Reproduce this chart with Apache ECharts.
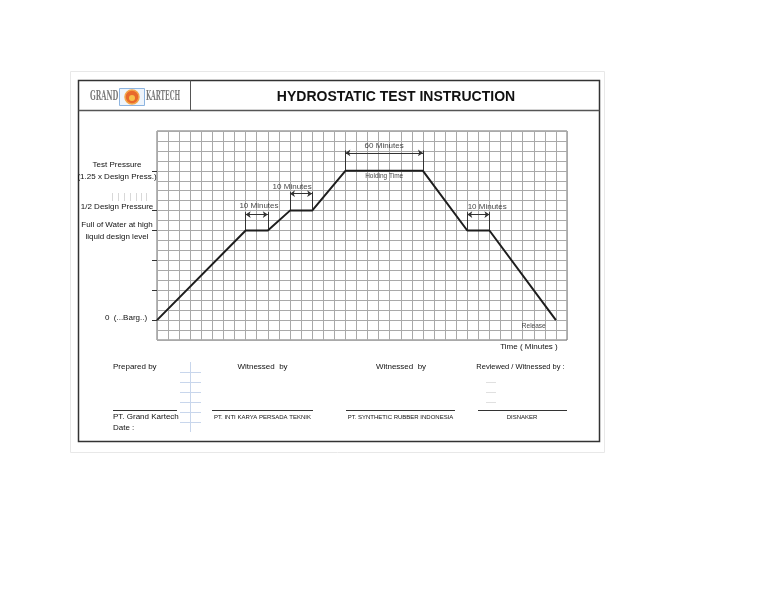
<!DOCTYPE html>
<html>
<head>
<meta charset="utf-8">
<script src="https://cdn.jsdelivr.net/npm/echarts@6/dist/echarts.min.js"></script>
<style>
html,body{margin:0;padding:0;background:#fff;}
#chart{width:768px;height:594px;}
</style>
</head>
<body>
<div id="chart"></div>
<script>
// ---- Data (time in grid columns, pressure in grid rows) ----
const times = [0, 8, 10, 12, 14, 17, 24, 28, 30, 36];
const pressure = [0, 9, 9, 11, 11, 15, 15, 9, 9, 0];

// hold periods (dimension annotations)
const holdStart = [8, 12, 17, 28];
const holdEnd = [10, 14, 24, 30];
const holdLevel = [9, 11, 15, 9];
const arrowLevel = [10.6, 12.7, 16.8, 10.6];
const extTop = [10.85, 12.9, 17.05, 10.85];
const holdText = ['10 Minutes', '10 Minutes', '60 Minutes', '10 Minutes'];
const holdLabelX = [9.2, 12.2, 20.5, 29.8];
const holdLabelY = [11.45, 13.35, 17.55, 11.35];

// other chart notes
const noteText = ['Holding Time', 'Release'];
const noteX = [20.5, 34.0];
const noteY = [14.45, -0.65];

// y-axis tick labels
const yTickValues = [0, 3, 6, 9, 11, 15];
const yTickLabels = ['0  (...Barg..)', '', '', 'Full of Water at high\nliquid design level', '1/2 Design Pressure', 'Test Pressure\n(1.25 x Design Press.)'];

const FONT = '"Liberation Sans", Arial, sans-serif';
const TXT = '#111';
const FS = 8;

const lineData = times.map((t, i) => [t, pressure[i]]);
const extLines = [];
const arrowLines = [];
holdStart.forEach((s, i) => {
  extLines.push({coords: [[s, holdLevel[i]], [s, extTop[i]]]});
  extLines.push({coords: [[holdEnd[i], holdLevel[i]], [holdEnd[i], extTop[i]]]});
  arrowLines.push({coords: [[s, arrowLevel[i]], [holdEnd[i], arrowLevel[i]]]});
});
const holdLabels = holdText.map((t, i) => ({name: t, value: [holdLabelX[i], holdLabelY[i]]}));
const noteLabels = noteText.map((t, i) => ({name: t, value: [noteX[i], noteY[i]]}));

const chart = echarts.init(document.getElementById('chart'), null, {renderer: 'canvas'});

function txt(x, y, text, opts, extra) {
  return Object.assign({
    type: 'text', x: x, y: y, silent: true,
    style: Object.assign({text: text, fill: TXT, font: FS + 'px ' + FONT, textAlign: 'left', textVerticalAlign: 'middle'}, opts || {})
  }, extra || {});
}
function ln(x1, y1, x2, y2, color, w) {
  return {type: 'line', silent: true, shape: {x1: x1, y1: y1, x2: x2, y2: y2}, style: {stroke: color, lineWidth: w || 1}};
}

const graphics = [
  {type: 'rect', silent: true, shape: {x: 70.5, y: 71.5, width: 534, height: 381}, style: {fill: 'none', stroke: '#e8e8e8', lineWidth: 1}},
  {type: 'rect', silent: true, shape: {x: 78.5, y: 80.5, width: 521, height: 361}, style: {fill: 'none', stroke: '#333', lineWidth: 1.5}},
  ln(78.5, 110.5, 599.5, 110.5, '#555', 1.5),
  ln(190.5, 80.5, 190.5, 110.5, '#555', 1),
  txt(396, 97, 'HYDROSTATIC TEST INSTRUCTION', {font: 'bold 14px ' + FONT, textAlign: 'center', fill: '#111'}),
  // logo
  txt(90, 97, 'GRAND', {font: 'bold 12px "DejaVu Serif Condensed", serif', fill: '#7a7a7a'}, {scaleX: 0.62}),
  {type: 'rect', silent: true, shape: {x: 119.5, y: 88.5, width: 25, height: 17}, style: {fill: '#eef4fb', stroke: '#8db4e0', lineWidth: 1}},
  {type: 'circle', silent: true, shape: {cx: 132, cy: 97, r: 7}, style: {fill: '#e8692c', stroke: '#f2a64a', lineWidth: 1.5}},
  {type: 'circle', silent: true, shape: {cx: 132, cy: 98, r: 3}, style: {fill: '#f6c04a'}},
  txt(146, 97, 'KARTECH', {font: 'bold 12px "DejaVu Serif Condensed", serif', fill: '#7a7a7a'}, {scaleX: 0.56}),
  // axis name
  txt(529, 347, 'Time ( Minutes )', {textAlign: 'center'}),
  // faint tick artefacts
  ln(112.5, 193, 112.5, 201, '#d8d8d8'), ln(118.5, 193, 118.5, 201, '#d8d8d8'), ln(124.5, 193, 124.5, 201, '#d8d8d8'),
  ln(130.5, 193, 130.5, 201, '#d8d8d8'), ln(136.5, 193, 136.5, 201, '#d8d8d8'), ln(141.5, 193, 141.5, 201, '#d8d8d8'),
  ln(146.5, 193, 146.5, 201, '#d8d8d8'),
  // signature block
  txt(113, 367, 'Prepared by'),
  txt(262.5, 367, 'Witnessed  by', {textAlign: 'center'}),
  txt(401, 367, 'Witnessed  by', {textAlign: 'center'}),
  txt(520.5, 367, 'Reviewed / Witnessed by :', {textAlign: 'center', font: '7.5px ' + FONT}),
  ln(190.5, 362, 190.5, 432, '#c8d6ec'),
  ln(180, 372.5, 201, 372.5, '#c8d6ec'), ln(180, 382.5, 201, 382.5, '#c8d6ec'), ln(180, 392.5, 201, 392.5, '#c8d6ec'),
  ln(180, 402.5, 201, 402.5, '#c8d6ec'), ln(180, 412.5, 201, 412.5, '#c8d6ec'), ln(180, 422.5, 201, 422.5, '#c8d6ec'),
  ln(486, 382.5, 496, 382.5, '#e0e0e0'), ln(486, 392.5, 496, 392.5, '#e0e0e0'), ln(486, 402.5, 496, 402.5, '#e0e0e0'),
  ln(113, 410.5, 177, 410.5, '#333'),
  ln(212, 410.5, 313, 410.5, '#333'),
  ln(346, 410.5, 455, 410.5, '#333'),
  ln(478, 410.5, 567, 410.5, '#333'),
  txt(113, 417, 'PT. Grand Kartech'),
  txt(113, 428, 'Date :'),
  txt(262.5, 417, 'PT. INTI KARYA PERSADA TEKNIK', {font: '6px ' + FONT, textAlign: 'center'}),
  txt(400.5, 417, 'PT. SYNTHETIC RUBBER INDONESIA', {font: '6px ' + FONT, textAlign: 'center'}),
  txt(522, 417, 'DISNAKER', {font: '6px ' + FONT, textAlign: 'center'})
];

const option = {
  backgroundColor: '#fff',
  animation: false,
  textStyle: {fontFamily: FONT},
  grid: {left: 157, top: 131, width: 410, height: 209, show: true, borderColor: '#6e6e6e', borderWidth: 1, backgroundColor: 'transparent'},
  xAxis: {
    type: 'value', min: 0, max: 37, interval: 1,
    axisLine: {show: false}, axisTick: {show: false}, axisLabel: {show: false},
    splitLine: {show: true, lineStyle: {color: '#a9a9a9', width: 1}}
  },
  yAxis: [
    {
      type: 'value', min: -2, max: 19, interval: 1,
      axisLine: {show: false}, axisTick: {show: false}, axisLabel: {show: false},
      splitLine: {show: true, lineStyle: {color: '#a9a9a9', width: 1}}
    },
    {
      type: 'value', min: -2, max: 19, interval: 1, position: 'left', offset: 0,
      axisLine: {show: false},
      splitLine: {show: false},
      axisTick: {show: true, customValues: yTickValues, length: 5, lineStyle: {color: '#333', width: 1}},
      axisLabel: {
        show: true, customValues: yTickValues, margin: 40, align: 'center',
        color: TXT, fontSize: FS, lineHeight: 12, fontFamily: FONT,
        formatter: function (v) {
          const i = yTickValues.indexOf(v);
          if (i < 0) return '';
          const t = yTickLabels[i];
          if (!t) return '';
          if (v === 0) return '{z|' + t + '}';
          if (v === 11) return '{h|' + t + '}';
          return t;
        },
        rich: {
          z: {fontSize: FS, color: TXT, fontFamily: FONT, padding: [0, 0, 5, 18]},
          h: {fontSize: FS, color: TXT, fontFamily: FONT, padding: [0, 0, 8, 0]}
        }
      }
    }
  ],
  series: [
    {
      type: 'line', data: lineData, symbol: 'none', z: 5,
      lineStyle: {color: '#1e1e1e', width: 2}
    },
    {
      type: 'lines', coordinateSystem: 'cartesian2d', data: extLines, z: 4,
      symbol: ['none', 'none'],
      lineStyle: {color: '#333', width: 1, opacity: 1}
    },
    {
      type: 'lines', coordinateSystem: 'cartesian2d', data: arrowLines, z: 4,
      symbol: ['arrow', 'arrow'], symbolSize: [5, 5],
      lineStyle: {color: '#333', width: 1, opacity: 1}
    },
    {
      type: 'scatter', data: holdLabels, symbolSize: 0, z: 6, silent: true,
      label: {show: true, position: 'inside', formatter: '{b}', color: TXT, fontSize: FS, fontFamily: FONT}
    },
    {
      type: 'scatter', data: noteLabels, symbolSize: 0, z: 6, silent: true,
      label: {show: true, position: 'inside', formatter: '{b}', color: TXT, fontSize: 6.5, fontFamily: FONT}
    }
  ],
  graphic: graphics
};
chart.setOption(option);
</script>
</body>
</html>
